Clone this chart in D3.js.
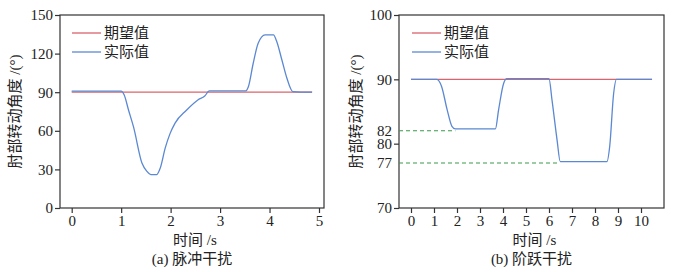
<!DOCTYPE html>
<html>
<head>
<meta charset="utf-8">
<script src="https://cdn.jsdelivr.net/npm/d3@7"></script>
<style>
  body { margin: 0; background: #fff; }
  svg text { fill: #222; font-family: "Liberation Serif", "Noto Sans CJK SC", serif; }
  .num { font-size: 15px; }
  .cjk { font-size: 15px; }
</style>
</head>
<body>
<script>
// --- data ---
// (a) pulse disturbance
let pulseTime   = [0, 1.0, 1.06, 1.15, 1.25, 1.42, 1.52, 1.6, 1.72, 1.79, 1.89, 1.99, 2.09, 2.32, 2.55, 2.69, 2.78, 3.52, 3.57, 3.67, 3.77, 3.91, 4.08, 4.14, 4.25, 4.35, 4.47, 4.86]
let pulseActual = [90.8, 90.8, 88, 76, 63, 35, 28.5, 26, 26, 31, 46.5, 58, 66, 76, 84, 87, 91, 91, 94, 112.5, 128, 134.5, 134.5, 130, 115, 101, 90.5, 90]
let pulseTarget = [[0, 90], [4.86, 90]]
let pulseYTicks = [0, 30, 60, 90, 120, 150]
let pulseXTicks = [0, 1, 2, 3, 4, 5]

// (b) step disturbance
let stepTime   = [0, 1.13, 1.33, 1.57, 1.78, 1.93, 3.67, 3.81, 4.03, 4.17, 6.0, 6.13, 6.35, 6.49, 8.52, 8.64, 8.81, 8.93, 10.48]
let stepActual = [90, 90, 88.9, 85.3, 82.7, 82.3, 82.3, 85.3, 89.4, 90.1, 90.1, 86.8, 80.6, 77.2, 77.2, 79.6, 87.8, 90, 90]
let stepTarget = [[0, 90], [10.48, 90]]
let stepYTicks = [70, 77, 80, 82, 90, 100]
let stepXTicks = [0, 1, 2, 3, 4, 5, 6, 7, 8, 9, 10]
let stepRefs   = [{v: 82, t: 1.93}, {v: 77, t: 6.42}]

let legendNames = ['期望值', '实际值']
let redColor = '#d9646c'
let blueColor = '#5b88d2'

let svg = d3.select('body').append('svg')
            .attr('width', 677)
            .attr('height', 272)

let drawPanel = (opt) => {
    let g = svg.append('g').attr('transform', 'translate(' + opt.left + ',15)')
    let w = opt.width, h = 193

    let x = d3.scaleLinear().domain(opt.xDomain).range(opt.xRange)
    let y = d3.scaleLinear().domain(opt.yDomain).range([h, 0])

    // frame
    g.append('rect').attr('width', w).attr('height', h)
        .style('fill', 'none').style('stroke', '#333').style('stroke-width', 1.2)

    let xAxis = g.append('g').attr('transform', 'translate(0,' + h + ')')
        .call(d3.axisBottom(x).tickValues(opt.xTicks).tickFormat(d3.format('d'))
              .tickSize(5).tickSizeOuter(0).tickPadding(2))
    let yAxis = g.append('g')
        .call(d3.axisLeft(y).tickValues(opt.yTicks).tickFormat(d3.format('d'))
              .tickSize(5).tickSizeOuter(0).tickPadding(2))
    ;[xAxis, yAxis].forEach(a => {
        a.select('.domain').remove()
        a.selectAll('line').style('stroke', '#333').style('stroke-width', 1.2)
        a.selectAll('text').attr('class', 'num').style('font-family', null)
    })
    // reference values carry a label only, no tick mark
    yAxis.selectAll('.tick').filter(d => (opt.noTick || []).includes(d))
        .select('line').remove()

    // reference dashed lines
    ;(opt.refs || []).forEach(r => {
        g.append('line')
            .attr('x1', 0).attr('x2', x(r.t))
            .attr('y1', y(r.v)).attr('y2', y(r.v))
            .style('stroke', '#3a9a4a').style('stroke-width', 1.1)
            .style('stroke-dasharray', '4,3')
    })

    let line = d3.line().x(d => x(d[0])).y(d => y(d[1])).curve(d3.curveMonotoneX)
    g.append('path').datum(opt.target).attr('d', line)
        .style('fill', 'none').style('stroke', redColor).style('stroke-width', 1.3)
    g.append('path').datum(opt.time.map((t, i) => [t, opt.actual[i]])).attr('d', line)
        .style('fill', 'none').style('stroke', blueColor).style('stroke-width', 1.3)

    // legend
    let colors = [redColor, blueColor]
    legendNames.forEach((name, i) => {
        let ly = 18 + i * 19
        g.append('line').attr('x1', opt.legX).attr('x2', opt.legX + 29)
            .attr('y1', ly).attr('y2', ly)
            .style('stroke', colors[i]).style('stroke-width', 1.3)
        g.append('text').attr('class', 'cjk')
            .attr('x', opt.legX + 32).attr('y', ly + 5).text(name)
    })

    // axis titles and caption
    g.append('text').attr('class', 'cjk').attr('text-anchor', 'middle')
        .attr('x', w / 2 + 3).attr('y', 230).text('时间 /s')
    g.append('text').attr('class', 'cjk').attr('text-anchor', 'middle')
        .attr('transform', 'translate(' + opt.yLabelX + ',' + (h / 2) + ') rotate(-90)')
        .text('肘部转动角度 /(°)')
    g.append('text').attr('class', 'cjk').attr('text-anchor', 'middle')
        .attr('x', w / 2).attr('y', 249).text(opt.caption)
}

drawPanel({
    left: 60, width: 264,
    xDomain: [0, 5], xRange: [11.7, 259],
    yDomain: [0, 150],
    xTicks: pulseXTicks, yTicks: pulseYTicks,
    time: pulseTime, actual: pulseActual, target: pulseTarget,
    legX: 12, yLabelX: -40, caption: '(a) 脉冲干扰'
})

drawPanel({
    left: 399, width: 265,
    xDomain: [0, 10], xRange: [12, 242],
    yDomain: [70, 100],
    xTicks: stepXTicks, yTicks: stepYTicks, noTick: [77, 82],
    time: stepTime, actual: stepActual, target: stepTarget,
    refs: stepRefs,
    legX: 13, yLabelX: -38, caption: '(b) 阶跃干扰'
})
</script>
</body>
</html>
